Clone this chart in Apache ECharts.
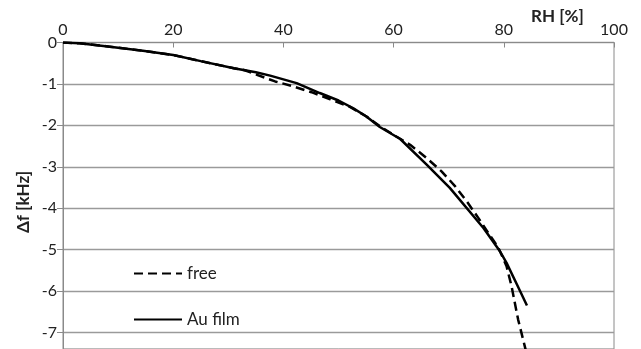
<!DOCTYPE html>
<html>
<head>
<meta charset="utf-8">
<script src="https://cdn.jsdelivr.net/npm/echarts@6/dist/echarts.min.js"></script>
<style>
html,body{margin:0;padding:0;background:#fff;}
#chart{width:641px;height:349px;}
</style>
</head>
<body>
<div id="chart"></div>
<script>
var xTicks = [0, 20, 40, 60, 80, 100];
var yTicks = [0, -1, -2, -3, -4, -5, -6, -7];

var rhFree = [0, 3, 8.5, 14.5, 20, 25, 31, 33, 35.2, 38.5, 41.8, 45.1, 48.5, 52, 55, 57.5, 60.5, 63, 66, 68.7, 71.1, 73.3, 75.4, 77.2, 79, 80.5, 81.4, 82.6, 83.8, 84.3];
var dfFree = [0, -0.02, -0.1, -0.2, -0.3, -0.45, -0.62, -0.67, -0.78, -0.94, -1.06, -1.2, -1.37, -1.55, -1.78, -2.02, -2.27, -2.47, -2.79, -3.11, -3.46, -3.84, -4.24, -4.6, -4.95, -5.4, -5.88, -6.69, -7.33, -7.6];

var rhAu = [0, 3, 8.5, 14.5, 20, 25, 31, 35, 37.6, 42.4, 46.6, 50, 52.7, 55, 57.5, 61.2, 66, 70.2, 76.3, 79.3, 80.5, 82.3, 84.2];
var dfAu = [0, -0.02, -0.1, -0.2, -0.3, -0.45, -0.62, -0.72, -0.8, -0.98, -1.22, -1.4, -1.59, -1.78, -2.04, -2.33, -2.95, -3.51, -4.48, -5.04, -5.32, -5.82, -6.35];

function pairs(xs, ys) { return xs.map(function (x, i) { return [x, ys[i]]; }); }

var FONT = 'Lato';
var chart = echarts.init(document.getElementById('chart'), null, {renderer: 'canvas'});
chart.setOption({
  animation: false,
  backgroundColor: '#fff',
  textStyle: {fontFamily: FONT},
  grid: {left: 63, right: 27, top: 42.5, bottom: 0, show: true, borderColor: '#8a8a8a', borderWidth: 1, backgroundColor: 'transparent', containLabel: false},
  xAxis: {
    type: 'value', position: 'top', min: xTicks[0], max: xTicks[xTicks.length - 1], interval: 20,
    axisLine: {show: true, onZero: false, lineStyle: {color: '#8a8a8a', width: 1}},
    axisTick: {show: true, inside: true, length: 5, lineStyle: {color: '#8a8a8a'}},
    axisLabel: {color: '#222', fontSize: 16, fontFamily: FONT, margin: 5},
    splitLine: {show: false}
  },
  yAxis: {
    type: 'value', min: -7.4, max: 0, minInterval: 1, maxInterval: 1, splitNumber: 7,
    axisLine: {show: true, onZero: false, lineStyle: {color: '#8a8a8a', width: 1}},
    axisTick: {show: true, length: 6, lineStyle: {color: '#8a8a8a'}},
    axisLabel: {color: '#222', fontSize: 16, fontFamily: FONT, margin: 6,
      formatter: function (v) { return yTicks.indexOf(v) >= 0 ? String(v) : ''; }},
    splitLine: {show: true, lineStyle: {color: '#9a9a9a', width: 1.3}}
  },
  legend: {
    orient: 'vertical', left: 128, top: 260, itemWidth: 48, itemHeight: 14, itemGap: 29,
    itemStyle: {opacity: 0},
    textStyle: {color: '#222', fontSize: 17, fontFamily: FONT},
    data: ['free', 'Au film']
  },
  graphic: [
    {type: 'text', left: 531, top: 8, style: {text: 'RH [%]', fontSize: 17, fontWeight: 'bold', fontFamily: FONT, fill: '#222'}},
    {type: 'text', x: 15, y: 233, rotation: Math.PI / 2, style: {text: 'Δf [kHz]', fontSize: 17, fontWeight: 'bold', fontFamily: FONT, fill: '#222'}}
  ],
  series: [
    {name: 'free', type: 'line', data: pairs(rhFree, dfFree), symbol: 'none', clip: true,
      lineStyle: {color: '#000', width: 2.5, type: [9, 5]}, itemStyle: {color: '#000'}},
    {name: 'Au film', type: 'line', data: pairs(rhAu, dfAu), symbol: 'none', clip: true,
      lineStyle: {color: '#000', width: 2.5, type: 'solid'}, itemStyle: {color: '#000'}}
  ]
});
</script>
</body>
</html>
